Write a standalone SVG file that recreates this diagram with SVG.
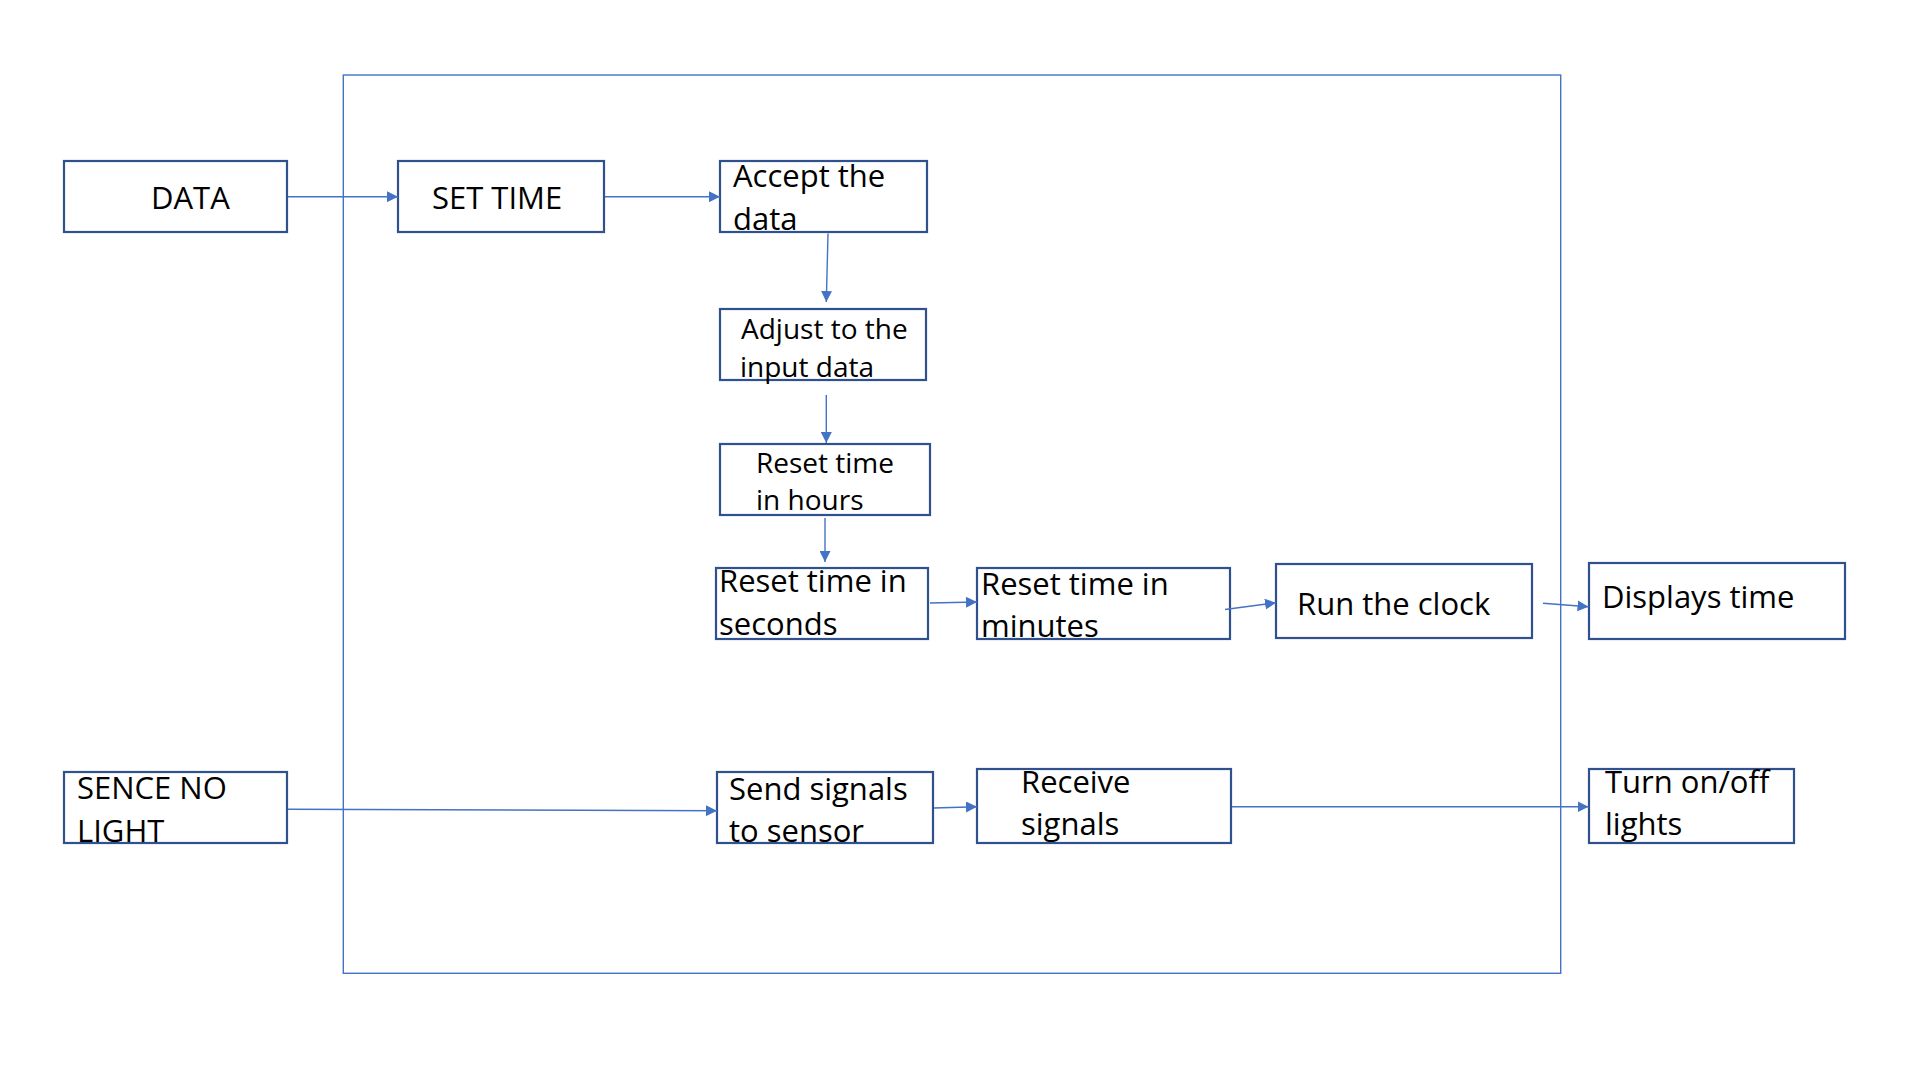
<svg xmlns="http://www.w3.org/2000/svg" width="1920" height="1080" viewBox="0 0 1920 1080">
<style>
.bg{fill:#ffffff}
.frame{fill:none;stroke:#4472C4;stroke-width:1.4}
.box{fill:#ffffff;stroke:#2F528F;stroke-width:2.2}
.t{font-family:"Open Sans","Noto Sans","Liberation Sans",sans-serif;fill:#000000;font-size:31px}
.s{font-size:28px}
.c{fill:none;stroke:#4472C4;stroke-width:1.4}
</style>
<defs>
<marker id="ah" markerUnits="userSpaceOnUse" markerWidth="11" markerHeight="11" refX="11" refY="5.5" orient="auto">
<path d="M0,0 L11,5.5 L0,11 z" fill="#4472C4"/>
</marker>
</defs>
<rect class="bg" x="0" y="0" width="1920" height="1080"/>
<rect id="frame" class="frame" x="343.3" y="75" width="1217.4" height="898.3"/>
<g id="data"><rect class="box" x="64" y="161" width="223" height="71"/><text class="t" x="151" y="209">DATA</text></g>
<g id="settime"><rect class="box" x="398" y="161" width="206" height="71"/><text class="t" x="432" y="209">SET TIME</text></g>
<g id="accept"><rect class="box" x="720" y="161" width="207" height="71"/><text class="t" x="733" y="187">Accept the</text><text class="t" x="733" y="230">data</text></g>
<g id="adjust"><rect class="box" x="720" y="309" width="206" height="71"/><text class="t s" x="741" y="339">Adjust to the</text><text class="t s" x="740" y="377">input data</text></g>
<g id="hours"><rect class="box" x="720" y="444" width="210" height="71"/><text class="t s" x="756" y="473">Reset time</text><text class="t s" x="756" y="510">in hours</text></g>
<g id="seconds"><rect class="box" x="716" y="568" width="212" height="71"/><text class="t" x="719" y="592">Reset time in</text><text class="t" x="719" y="635">seconds</text></g>
<g id="minutes"><rect class="box" x="977" y="568" width="253" height="71"/><text class="t" x="981" y="595">Reset time in</text><text class="t" x="981" y="637">minutes</text></g>
<g id="runclock"><rect class="box" x="1276" y="564" width="256" height="74"/><text class="t" x="1297" y="615">Run the clock</text></g>
<g id="displays"><rect class="box" x="1589" y="563" width="256" height="76"/><text class="t" x="1602" y="608">Displays time</text></g>
<g id="sence"><rect class="box" x="64" y="772" width="223" height="71"/><text class="t" x="77" y="799">SENCE NO</text><text class="t" x="77" y="842">LIGHT</text></g>
<g id="send"><rect class="box" x="717" y="772" width="216" height="71"/><text class="t" x="729" y="800">Send signals</text><text class="t" x="729" y="842">to sensor</text></g>
<g id="receive"><rect class="box" x="977" y="769" width="254" height="74"/><text class="t" x="1021" y="793">Receive</text><text class="t" x="1021" y="835">signals</text></g>
<g id="turn"><rect class="box" x="1589" y="769" width="205" height="74"/><text class="t" x="1605" y="793">Turn on/off</text><text class="t" x="1605" y="835">lights</text></g>
<g id="connectors">
<line class="c" x1="288" y1="196.7" x2="398" y2="196.7" marker-end="url(#ah)"/>
<line class="c" x1="605" y1="196.7" x2="720" y2="196.7" marker-end="url(#ah)"/>
<line class="c" x1="828" y1="233.5" x2="826.3" y2="302" marker-end="url(#ah)"/>
<line class="c" x1="826.3" y1="395" x2="826.3" y2="443" marker-end="url(#ah)"/>
<line class="c" x1="825" y1="518" x2="825" y2="562" marker-end="url(#ah)"/>
<line class="c" x1="930" y1="603" x2="977" y2="602" marker-end="url(#ah)"/>
<line class="c" x1="1225" y1="609.5" x2="1276" y2="602.7" marker-end="url(#ah)"/>
<line class="c" x1="1543" y1="603.3" x2="1588.5" y2="606.7" marker-end="url(#ah)"/>
<line class="c" x1="288" y1="809.3" x2="717" y2="810.7" marker-end="url(#ah)"/>
<line class="c" x1="934" y1="808" x2="977" y2="806.7" marker-end="url(#ah)"/>
<line class="c" x1="1232" y1="806.7" x2="1588.5" y2="806.7" marker-end="url(#ah)"/>
</g>
</svg>
